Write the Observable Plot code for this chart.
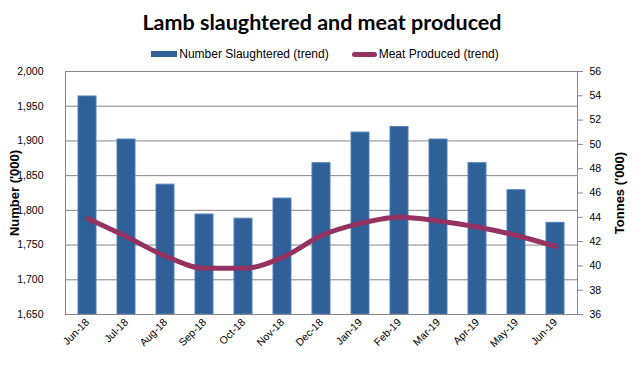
<!DOCTYPE html>
<html><head><meta charset="utf-8">
<script src="https://cdn.jsdelivr.net/npm/d3@7"></script>
<script src="https://cdn.jsdelivr.net/npm/@observablehq/plot@0.6"></script>
<style>
body{margin:0;background:#fff;font-family:"Liberation Sans",Arial,sans-serif;width:644px;height:365px;overflow:hidden;}
#title{height:44px;line-height:44px;text-align:center;font-family:Lato,"Liberation Sans",sans-serif;font-weight:bold;font-size:21.5px;color:#000;}
#legend{height:20px;display:flex;align-items:center;justify-content:center;font-size:12px;color:#000;padding-left:6px;}
.sw{display:inline-block;margin-right:2px;}
.item{display:flex;align-items:center;}
</style></head><body>
<div id="title">Lamb slaughtered and meat produced</div>
<div id="legend">
  <span class="item"><span class="sw" style="width:26px;height:6px;background:#2F6098;"></span>Number Slaughtered (trend)</span>
  <span class="item" style="margin-left:23px;"><span class="sw" style="width:25px;height:5px;background:#953262;border-radius:3px;"></span>Meat Produced (trend)</span>
</div>
<div id="chart"></div>
<script>
const months = ["Jun-18","Jul-18","Aug-18","Sep-18","Oct-18","Nov-18","Dec-18","Jan-19","Feb-19","Mar-19","Apr-19","May-19","Jun-19"];
const slaughtered = [1964,1902,1837,1794,1788,1817,1868,1912,1920,1902,1868,1829,1782];
const meat = [43.9,42.4,40.8,39.8,39.8,40.7,42.5,43.5,44.0,43.7,43.2,42.5,41.6];
const leftTicks = [1650,1700,1750,1800,1850,1900,1950,2000];
const rightTicks = [36,38,40,42,44,46,48,50,52,54,56];

const yDomain = [1650, 2000];
const y2Domain = [36, 56];
const toLeft = d3.scaleLinear(y2Domain, yDomain);
const data = months.map((m, i) => ({month: m, n: slaughtered[i], t: meat[i]}));

const chart = Plot.plot({
  width: 644,
  height: 301,
  marginLeft: 65,
  marginRight: 67,
  marginTop: 7,
  marginBottom: 51,
  style: {fontFamily: "'Liberation Sans', Arial, sans-serif", fontSize: "10.5px", color: "#000", background: "#fff"},
  x: {domain: months, paddingInner: 0.535, paddingOuter: 0.2675},
  y: {domain: yDomain},
  marks: [
    Plot.gridY(leftTicks.slice(1, -1), {stroke: "#868686", strokeOpacity: 1}),
    Plot.barY(data, {x: "month", y1: 1650, y2: "n", fill: "#2F6098", stroke: "#4F81BD", strokeWidth: 1}),
    Plot.line(data, {x: "month", y: d => toLeft(d.t), stroke: "#953262", strokeWidth: 5, strokeLinecap: "round", strokeLinejoin: "round", curve: "monotone-x"}),
    Plot.frame({stroke: "#868686"}),
    Plot.axisY(leftTicks, {anchor: "left", tickSize: 0, tickPadding: 22, tickFormat: d3.format(","),
      label: "Number ('000)", labelAnchor: "center", labelArrow: "none", labelOffset: 56}),
    Plot.axisY(rightTicks.map(v => toLeft(v)), {anchor: "right", tickSize: 5, stroke: "#868686", tickPadding: 7,
      tickFormat: d => Math.round(toLeft.invert(d)),
      label: "Tonnes ('000)", labelAnchor: "center", labelArrow: "none", labelOffset: 46}),
    Plot.axisX({tickRotate: -45, tickSize: 0, tickPadding: 6, label: null})
  ]
});
document.getElementById("chart").appendChild(chart);
chart.querySelectorAll('[aria-label="y-axis label"] text, [aria-label="y-axis label"]').forEach(t => {
  t.setAttribute("font-weight", "bold");
  t.setAttribute("font-size", "13px");
});
</script>
</body></html>
